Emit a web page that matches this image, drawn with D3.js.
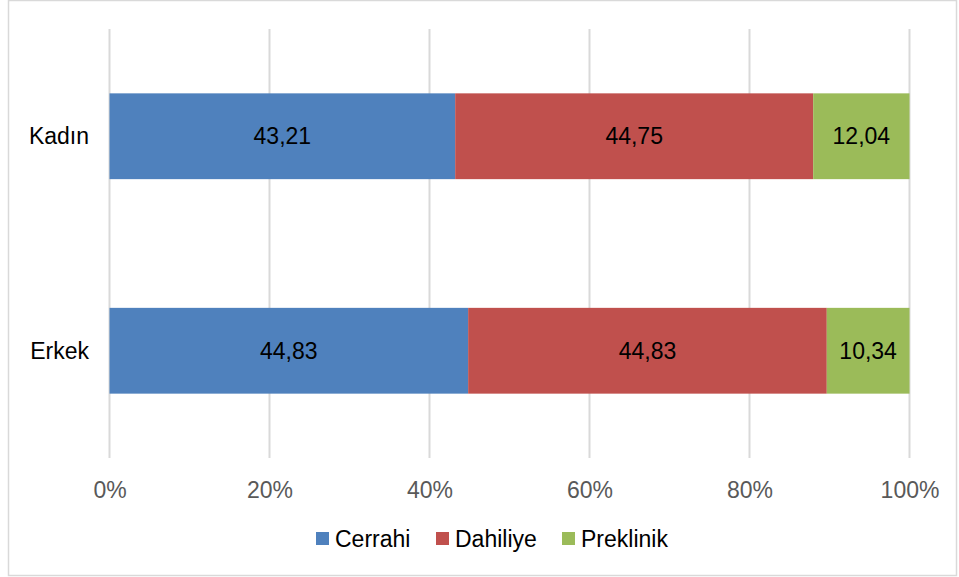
<!DOCTYPE html>
<meta charset='utf-8'>
<title>Cinsiyete göre dağılım</title>
<style>
  body { margin: 0; background: #fff; font-family: 'Liberation Sans', Arial, sans-serif; }
  svg { display: block; }
  .grid line { stroke: #d9d9d9; stroke-width: 2px; }
  .tick text { fill: #595959; font-size: 23px; }
</style>
<body>
<script src='https://cdn.jsdelivr.net/npm/d3@7'></script>
<script>

  var categories = ['Kadın', 'Erkek']
  var seriesNames = ['Cerrahi', 'Dahiliye', 'Preklinik']
  var cerrahi = [43.21, 44.83]
  var dahiliye = [44.75, 44.83]
  var preklinik = [12.04, 10.34]
  var colors = ['#4f81bd', '#c0504d', '#9bbb59']
  var tickValues = [0, 20, 40, 60, 80, 100]

  var width = 959, height = 577

  var svg = d3.select('body').append('svg')
    .attr('width', width)
    .attr('height', height)

  // chart border
  svg.append('rect')
    .attr('x', 8.5).attr('y', 0.5)
    .attr('width', 948).attr('height', 575)
    .attr('fill', 'none').attr('stroke', '#d9d9d9').attr('stroke-width', 1.5)

  var x = d3.scaleLinear().domain([0, 100]).range([109.5, 909.5])
  var y = d3.scaleBand().domain(categories).range([29, 458]).paddingInner(0.6).paddingOuter(0.3)

  var rows = categories.map(function(c, i) {
    return { cat: c, Cerrahi: cerrahi[i], Dahiliye: dahiliye[i], Preklinik: preklinik[i] }
  })
  var stacked = d3.stack().keys(seriesNames)(rows)

  // gridlines
  svg.append('g').attr('class', 'grid')
    .selectAll('line').data(tickValues).enter().append('line')
    .attr('x1', function(d) { return x(d) }).attr('x2', function(d) { return x(d) })
    .attr('y1', 29).attr('y2', 458)

  // x axis labels
  var xAxis = d3.axisBottom(x).tickValues(tickValues).tickSize(0).tickPadding(0)
    .tickFormat(function(d) { return d + '%' })
  var gx = svg.append('g').attr('transform', 'translate(0,498)').call(xAxis)
  gx.select('.domain').remove()
  gx.selectAll('text').attr('y', 0).attr('dy', 0).style('font-family', 'inherit')

  // category labels
  svg.append('g').selectAll('text').data(categories).enter().append('text')
    .attr('x', 89)
    .attr('y', function(d) { return y(d) + y.bandwidth() / 2 })
    .attr('dy', '0.35em')
    .attr('text-anchor', 'end')
    .style('font-size', '23px')
    .attr('fill', '#000')
    .text(function(d) { return d })

  // bars
  var layers = svg.append('g').selectAll('g').data(stacked).enter().append('g')
    .attr('fill', function(d, i) { return colors[i] })

  layers.selectAll('rect').data(function(d) { return d }).enter().append('rect')
    .attr('x', function(d) { return x(d[0]) })
    .attr('width', function(d) { return x(d[1]) - x(d[0]) })
    .attr('y', function(d) { return y(d.data.cat) })
    .attr('height', y.bandwidth())

  layers.each(function(s) {
    d3.select(this).selectAll('text').data(s).enter().append('text')
      .attr('x', function(d) { return (x(d[0]) + x(d[1])) / 2 })
      .attr('y', function(d) { return y(d.data.cat) + y.bandwidth() / 2 })
      .attr('dy', '0.35em')
      .attr('text-anchor', 'middle')
      .attr('fill', '#000')
      .style('font-size', '23px')
      .text(function(d) { return d3.format('.2f')(d.data[s.key]).replace('.', ',') })
  })

  // legend
  var legendX = [316, 436, 562]
  var legend = svg.append('g').selectAll('g').data(seriesNames).enter().append('g')
    .attr('transform', function(d, i) { return 'translate(' + legendX[i] + ',538.5)' })
  legend.append('rect')
    .attr('x', 0).attr('y', -6.5).attr('width', 13).attr('height', 13)
    .attr('fill', function(d, i) { return colors[i] })
  legend.append('text')
    .attr('x', 19).attr('dy', '0.35em')
    .style('font-size', '23px')
    .attr('fill', '#000')
    .text(function(d) { return d })

</script>
</body>
